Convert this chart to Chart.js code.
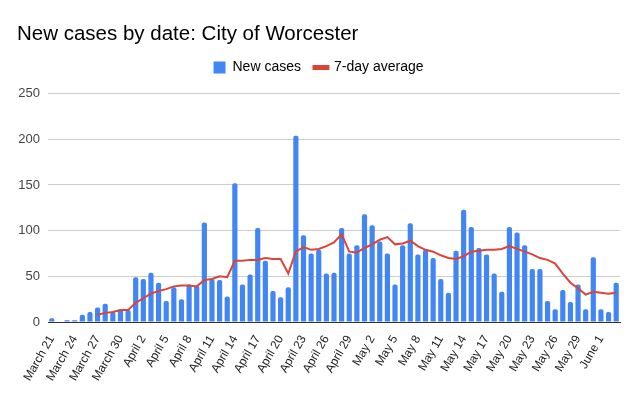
<!DOCTYPE html>
<html>
<head>
<meta charset="utf-8">
<script src="https://cdn.jsdelivr.net/npm/chart.js@4/dist/chart.umd.min.js"></script>
<style>
  html, body { margin:0; padding:0; background:#fff; }
  #wrap { width:641px; height:396px; position:relative; }
</style>
</head>
<body>
<div id="wrap"><canvas id="chart" width="641" height="396"></canvas></div>
<script>
// dates, March 21 .. June 3
const dates = [
  'March 21','March 22','March 23','March 24','March 25','March 26','March 27','March 28','March 29','March 30','March 31',
  'April 1','April 2','April 3','April 4','April 5','April 6','April 7','April 8','April 9','April 10',
  'April 11','April 12','April 13','April 14','April 15','April 16','April 17','April 18','April 19','April 20',
  'April 21','April 22','April 23','April 24','April 25','April 26','April 27','April 28','April 29','April 30',
  'May 1','May 2','May 3','May 4','May 5','May 6','May 7','May 8','May 9','May 10',
  'May 11','May 12','May 13','May 14','May 15','May 16','May 17','May 18','May 19','May 20',
  'May 21','May 22','May 23','May 24','May 25','May 26','May 27','May 28','May 29','May 30','May 31',
  'June 1','June 2','June 3'
];
const newCases = [
  4,0,2,2,8,11,16,20,11,14,13,
  49,47,54,43,23,38,25,41,40,109,
  47,46,28,152,41,52,103,67,34,27,
  38,204,95,75,79,53,54,103,75,84,
  118,106,88,75,41,84,108,74,79,70,
  47,32,78,123,104,81,74,53,33,104,
  98,84,58,58,23,14,35,22,41,14,71,
  14,11,43
];
const avg7 = [
  null,null,null,null,null,null,8,10,11,13,13,
  21,26,31,34,36,39,40,40,39,46,
  47,50,49,67,67,68,68,70,69,69,
  53,77,82,79,80,83,87,96,77,76,
  81,85,90,93,85,86,89,83,79,77,
  73,70,69,72,77,78,79,79,80,83,
  80,77,74,70,68,64,53,43,37,30,33,
  32,31,32
];
const yTicks = [0, 50, 100, 150, 200, 250];

const blue = '#4285f4', red = '#db4437';
const font = "Arial, 'Liberation Sans', sans-serif";

// a bit more room under the legend
const legendGap = {
  id:'legendGap',
  beforeInit(chart) {
    const fit = chart.legend.fit;
    chart.legend.fit = function() { fit.call(this); this.height += 9; };
  }
};

new Chart(document.getElementById('chart'), {
  data: {
    labels: dates,
    datasets: [
      { type:'line', label:'7-day average', data:avg7, borderColor:red, backgroundColor:red,
        borderWidth:2, pointRadius:0, tension:0, order:0 },
      { type:'bar', label:'New cases', data:newCases, backgroundColor:blue,
        barPercentage:0.68, categoryPercentage:1, borderRadius:{topLeft:2,topRight:2}, borderSkipped:'bottom', order:1 }
    ]
  },
  plugins:[legendGap],
  options: {
    responsive:false, animation:false,
    layout:{ padding:{ left:17, right:21, top:0, bottom:0 } },
    plugins:{
      title:{ display:true, text:'New cases by date: City of Worcester', align:'start',
        color:'#000', font:{ family:font, size:20.5, weight:'normal' }, padding:{ top:22, bottom:0 } },
      legend:{
        labels:{
          font:{ family:font, size:14 }, color:'#222', boxWidth:12, boxHeight:12, padding:14,
          usePointStyle:true,
          generateLabels: () => [
            { text:'New cases', fillStyle:blue, strokeStyle:blue, lineWidth:0, pointStyle:'rect', datasetIndex:1 },
            { text:'7-day average', fillStyle:red, strokeStyle:red, lineWidth:5, pointStyle:'line', datasetIndex:0 }
          ]
        }
      },
      tooltip:{ enabled:false }
    },
    scales:{
      x:{
        afterFit: s => { s.height = 74; },
        grid:{ display:false },
        border:{ display:true, color:'#333', width:1 },
        ticks:{
          autoSkip:false, maxRotation:60, minRotation:60, color:'#222',
          font:{ family:font, size:12 },
          callback:(v, i) => i % 3 === 0 ? dates[i] : ''
        }
      },
      y:{
        min:0, max:250,
        afterBuildTicks: s => { s.ticks = yTicks.map(v => ({ value:v })); },
        afterFit: s => { s.width = 31; },
        grid:{ color:'#ccc', drawTicks:false },
        border:{ display:false },
        ticks:{ color:'#444', padding:8, font:{ family:font, size:13 } }
      }
    }
  }
});
</script>
</body>
</html>
